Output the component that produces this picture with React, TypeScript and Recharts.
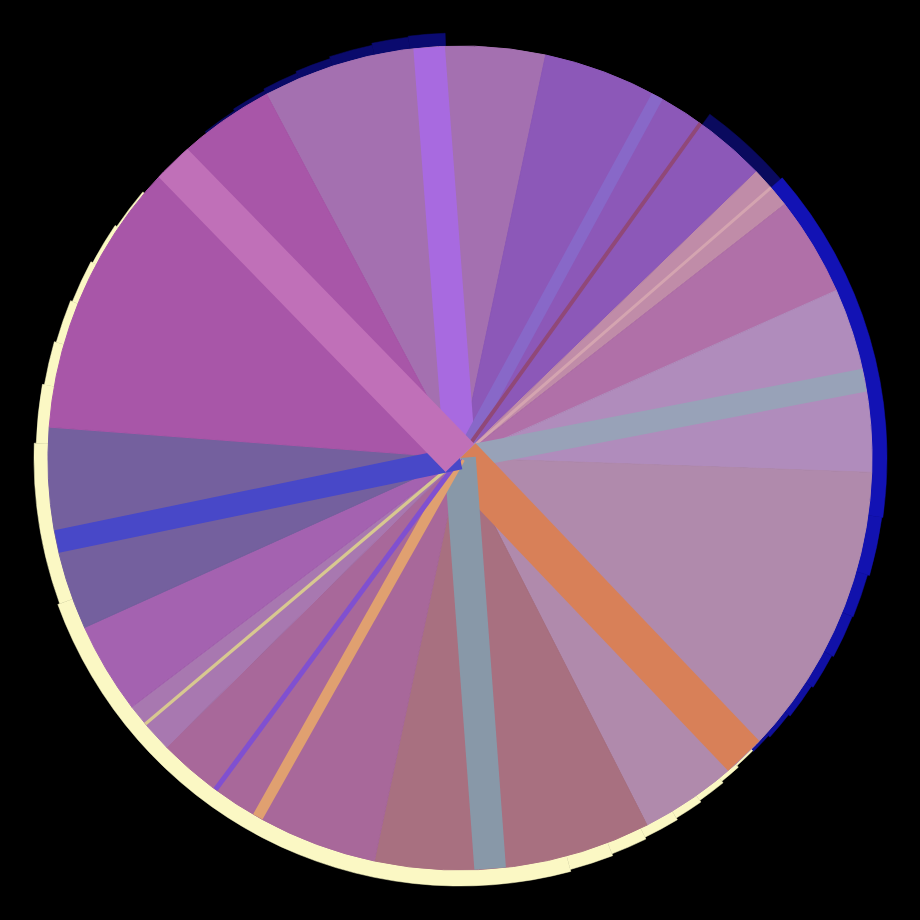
import React from 'react';
import { PieChart, Pie, Cell } from 'recharts';

const CX = 460;
const CY = 458;
const R = 412;
const START = 118;

// base wedges, clockwise from 118deg, values in degrees
const sliceNames = [
  'Mauve', 'Purple', 'Peach', 'Rose', 'Lavender', 'Blush',
  'Dusty rose', 'Orchid', 'Haze', 'Lilac', 'Indigo', 'Magenta',
];
const sliceValues = [40, 34, 6, 14, 26, 61, 39, 33.4, 7.4, 12.9, 28.6, 57.7];
const sliceColors = [
  '#a470b0', '#8c58b8', '#c08ca8', '#b070a8', '#b08cbc', '#b08aac',
  '#a87080', '#a8689a', '#a878b0', '#a462b0', '#74609e', '#a856a8',
];

// straight bands over the wedges: centre angle and angular width at the rim
const bandNames = [
  'Violet', 'Blue haze', 'Wine', 'Peach line', 'Steel', 'Orange',
  'Slate', 'Apricot', 'Iris', 'Straw', 'Blue', 'Pink',
];
const bandAngles = [94.3, 61.4, 54.3, 41, 10.9, -46.4, -85.8, -119.4, -126.4, -139.8, -168.3, -225.8];
const bandSpans = [4.4, 1.7, 0.55, 0.4, 3.2, 6, 4.4, 1.5, 0.7, 0.45, 3.2, 5.6];
const bandColors = [
  '#a86ae0', '#8868c8', '#904878', '#d4a4b0', '#98a2b8', '#d88058',
  '#8898a8', '#e0a070', '#8050d0', '#d8c890', '#4848c8', '#c070b8',
];

// outer rims: arc spans in degrees, 0-width = no rim
const blueRimSpans = [5, 5, 5, 5, 6, 5, 5, 38, 13, 49, 8, 6, 6, 5, 5, 4, 3]; // clockwise from 128deg
const blueRimWidths = [2, 4, 6, 8, 10, 12, 13, 0, 13, 15, 14, 12, 11, 9, 7, 5, 3];
const blueRimColors = [
  '#0a0a60', '#0a0a64', '#0a0a68', '#0a0a6a', '#0a0a6c', '#0a0a6e', '#0a0a70', 'none',
  '#0a0a5e', '#1212b4', '#1212b0', '#1111ac', '#1111a8', '#1010a4', '#1010a0', '#10109a', '#101094',
];

const creamRimSpans = [6, 6, 6, 6, 6, 8, 22, 85, 6, 5, 5, 4, 4, 3, 3]; // counter-clockwise from 140deg
const creamRimWidths = [2, 4, 6, 8, 10, 12, 14, 16, 14, 12, 10, 8, 6, 4, 2];
const creamRimColor = '#fbf8c4';

const sliceData = sliceNames.map((name, i) => ({ name, value: sliceValues[i] }));

const bandData: any[] = [];
let cursor = 0;
bandAngles.forEach((a, i) => {
  const from = START - a - bandSpans[i] / 2;
  bandData.push({ name: 'gap', value: from - cursor, band: false, color: 'none' });
  bandData.push({ name: bandNames[i], value: bandSpans[i], band: true, color: bandColors[i] });
  cursor = from + bandSpans[i];
});
bandData.push({ name: 'gap', value: 360 - cursor, band: false, color: 'none' });

// turn a list of arc spans into start/end angles
const arcs = (spans: number[], start: number, dir: number) => {
  let at = start;
  return spans.map((v) => {
    const a = { start: at, end: at + dir * v, value: v };
    at += dir * v;
    return a;
  });
};

const blueArcs = arcs(blueRimSpans, 128, -1);
const creamArcs = arcs(creamRimSpans, 140, 1);

// draws a constant-width strip along the sector's mid angle
const renderBand = (props: any) => {
  const p = props.payload ?? props;
  if (!p || !p.band) return null;
  const { cx, cy, midAngle, outerRadius, startAngle, endAngle } = props;
  const span = (Math.abs(endAngle - startAngle) * Math.PI) / 180;
  const half = outerRadius * Math.sin(span / 2);
  const len = Math.sqrt(outerRadius * outerRadius - half * half);
  const rad = (midAngle * Math.PI) / 180;
  const ux = Math.cos(rad);
  const uy = -Math.sin(rad);
  const nx = -uy;
  const ny = ux;
  const pts = [
    [cx + nx * half, cy + ny * half],
    [cx + ux * len + nx * half, cy + uy * len + ny * half],
    [cx + ux * len - nx * half, cy + uy * len - ny * half],
    [cx - nx * half, cy - ny * half],
  ]
    .map((q) => q.join(','))
    .join(' ');
  return <polygon key={`band-${props.index}`} points={pts} fill={p.color} stroke="none" />;
};

export default function App() {
  return (
    <div
      style={{
        position: 'fixed',
        left: 0,
        top: 0,
        width: 920,
        height: 920,
        background: '#000',
      }}
    >
      <PieChart width={920} height={920} margin={{ top: 0, right: 0, bottom: 0, left: 0 }}>
        {/* rims sit behind the disc */}
        {blueArcs.map((a, i) =>
          blueRimWidths[i] > 0 ? (
            <Pie
              key={`blue-${i}`}
              data={[{ name: 'rim', value: a.value }]}
              dataKey="value"
              cx={CX}
              cy={CY}
              innerRadius={R - 4}
              outerRadius={R + blueRimWidths[i]}
              startAngle={a.start}
              endAngle={a.end}
              stroke="none"
              isAnimationActive={false}
            >
              <Cell fill={blueRimColors[i]} stroke={blueRimColors[i]} strokeWidth={0.5} />
            </Pie>
          ) : null,
        )}
        {creamArcs.map((a, i) => (
          <Pie
            key={`cream-${i}`}
            data={[{ name: 'rim', value: a.value }]}
            dataKey="value"
            cx={CX}
            cy={CY}
            innerRadius={R - 4}
            outerRadius={R + creamRimWidths[i]}
            startAngle={a.start}
            endAngle={a.end}
            stroke="none"
            isAnimationActive={false}
          >
            <Cell fill={creamRimColor} stroke={creamRimColor} strokeWidth={0.5} />
          </Pie>
        ))}

        <Pie
          data={sliceData}
          dataKey="value"
          nameKey="name"
          cx={CX}
          cy={CY}
          outerRadius={R}
          startAngle={START}
          endAngle={START - 360}
          isAnimationActive={false}
        >
          {sliceData.map((d, i) => (
            <Cell key={`s-${d.name}`} fill={sliceColors[i]} stroke={sliceColors[i]} strokeWidth={1} />
          ))}
        </Pie>

        <Pie
          data={bandData}
          dataKey="value"
          nameKey="name"
          cx={CX}
          cy={CY}
          outerRadius={R}
          startAngle={START}
          endAngle={START - 360}
          stroke="none"
          label={renderBand}
          labelLine={false}
          isAnimationActive={false}
        >
          {bandData.map((d, i) => (
            <Cell key={`g-${i}`} fill="none" stroke="none" />
          ))}
        </Pie>
      </PieChart>
    </div>
  );
}
